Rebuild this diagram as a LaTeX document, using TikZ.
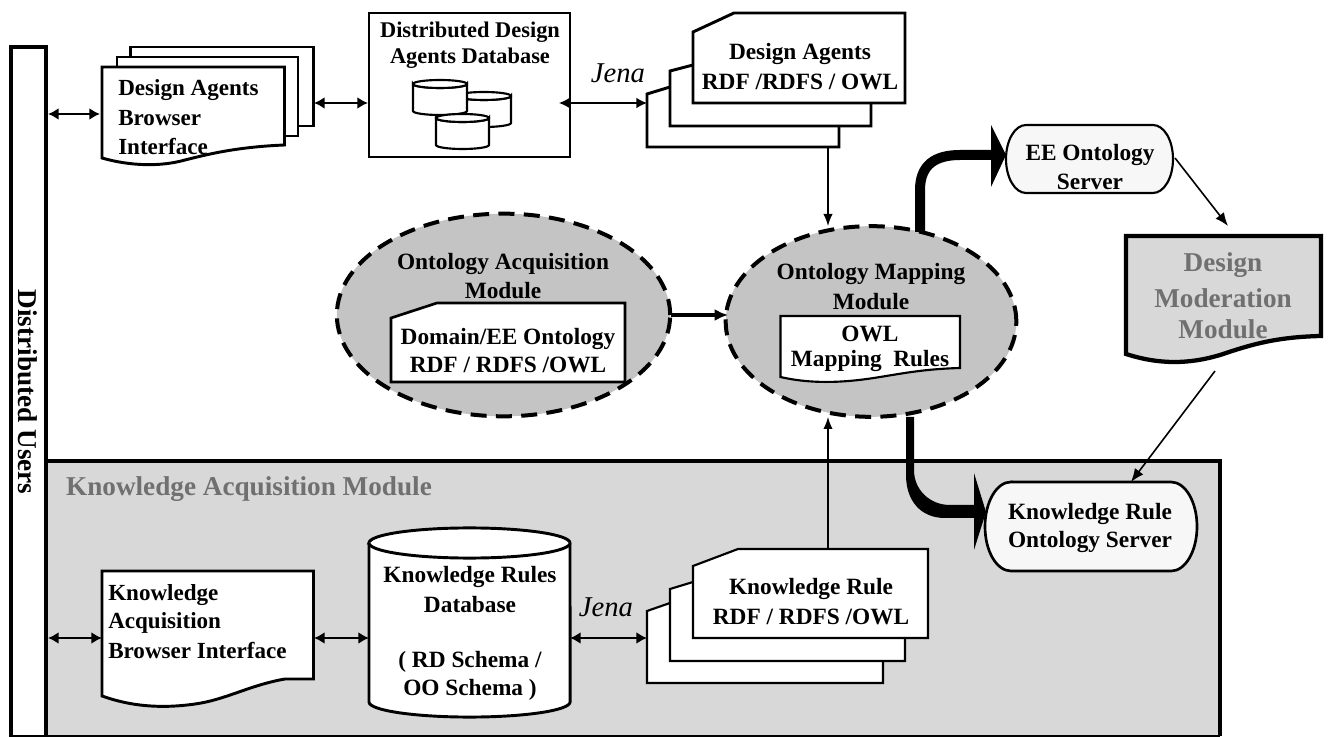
\documentclass[tikz,border=0pt]{standalone}
\usepackage{fontspec}
\setmainfont{Liberation Serif}
\usetikzlibrary{arrows.meta,calc}
\definecolor{ovalgray}{HTML}{C4C4C4}
\definecolor{panelgray}{HTML}{D8D8D8}
\definecolor{servwhite}{HTML}{F7F7F7}
\definecolor{labgray}{HTML}{707070}
\tikzset{
  x=0.75pt,y=-0.75pt,
  box/.style={draw=black,line width=2.2pt,fill=white},
  thinbox/.style={draw=black,line width=1.6pt,fill=white},
  lab/.style={font=\fontsize{17.5}{17.5}\selectfont\bfseries,inner sep=0pt,anchor=center,yshift=-1.2pt},
  labw/.style={font=\fontsize{17.3}{17.3}\selectfont\bfseries,inner sep=0pt,anchor=west,yshift=-1.2pt},
  graylab/.style={font=\fontsize{20.4}{20.4}\selectfont\bfseries,text=labgray,inner sep=0pt,yshift=-1.2pt},
  jenalab/.style={font=\fontsize{21.5}{21.5}\selectfont\itshape,inner sep=0pt},
  oval/.style={draw=black,line width=3pt,fill=ovalgray,dash pattern=on 12pt off 7pt},
  dbl/.style={line width=1.8pt,{Latex[length=8pt,width=9pt]}-{Latex[length=8pt,width=9pt]}},
  thinarrow/.style={line width=1pt,-{Latex[length=9pt,width=7pt]}},
  server/.style={draw=black,line width=1.6pt,fill=servwhite},
  cyl/.style={draw=black,line width=1.6pt,fill=white},
}
\begin{document}
\begin{tikzpicture}
\useasboundingbox (0,0) rectangle (1328,737);
\fill[white] (0,0) rectangle (1328,737);

% knowledge panel
\fill[panelgray] (47,461) rectangle (1220,736);
\draw[line width=3pt] (47,461) -- (1220,461) -- (1220,736);
\node[graylab] (kam) at (249,487) {Knowledge Acquisition Module};

% users bar
\fill[white] (11,47) rectangle (46,736);
\draw[line width=2.6pt] (11,737) -- (11,47) -- (46,47) -- (46,737);
\draw[line width=1pt] (11,736) -- (1220,736);
\node[font=\fontsize{20.4}{20.4}\selectfont\bfseries,rotate=-90,inner sep=0pt] (users) at (28,392) {Distributed Users};

% Design agents browser stack
\draw[box] (130.5,47) rectangle (313.5,126);
\draw[box] (117,57) rectangle (298,136);
\draw[box] (102,67) -- (284.5,67) -- (284.5,145) .. controls (235,147) and (205,155) .. (185,160) .. controls (160,167) and (130,166) .. (102,158) -- cycle;
\coordinate (browserL) at (100,114);
\coordinate (browserR) at (314,103);
\node[labw] (b1) at (118,88) {Design Agents};
\node[labw] (b2) at (118,116) {Browser};
\node[labw] (b3) at (118,145) {Interface};

% DB box
\draw[box] (369,13) rectangle (570,157);
\node[lab,font=\fontsize{16.8}{16.8}\selectfont\bfseries] (d1) at (470,31) {Distributed Design};
\node[lab,font=\fontsize{16.8}{16.8}\selectfont\bfseries] (d2) at (470,57) {Agents Database};
\coordinate (dbL) at (368,103);
\coordinate (dbJ) at (559,103);
\foreach \xl/\xr/\yt/\yb in {457/511/92/127,413/467/80/115,436/489/114/149}{
  \pgfmathsetmacro\xc{(\xl+\xr)/2}
  \pgfmathsetmacro\rx{(\xr-\xl)/2*0.75}
  \draw[cyl] (\xl,\yt+4) arc[start angle=180,end angle=360,x radius=\rx pt,y radius=3pt] -- (\xr,\yb-4) arc[start angle=0,end angle=-180,x radius=\rx pt,y radius=3pt] -- cycle;
  \draw[cyl] (\xc,\yt+4) ellipse[x radius=\rx pt,y radius=3pt];
}

% Design agents RDF stack
\draw[box] (647,94) -- (670,87) -- (839,87) -- (839,147) -- (647,147) -- cycle;
\draw[box] (670,71) -- (693,65) -- (871,65) -- (871,126) -- (670,126) -- cycle;
\draw[box] (693,32) -- (734,13) -- (905,13) -- (905,103) -- (693,103) -- cycle;
\node[lab] (r1) at (800,52) {Design Agents};
\node[lab] (r2) at (800,80) {RDF /RDFS / OWL};
\coordinate (rdfL) at (647,103);
\coordinate (rdfB) at (828,147);
\node[jenalab] (jena1) at (618,73) {Jena};

% Ovals
\draw[oval] (503.5,315) ellipse[x radius=125pt,y radius=76pt];
\draw[oval] (871,321.5) ellipse[x radius=109pt,y radius=71.5pt];
\node[lab] (o1) at (503,262) {Ontology Acquisition};
\node[lab] (o2) at (503,289) {Module};
\draw[thinbox,line width=2pt] (391,318) -- (437,303) -- (625,303) -- (625,382) -- (391,382) -- cycle;
\node[lab] (o3) at (508,337) {Domain/EE Ontology};
\node[lab] (o4) at (508,363) {RDF / RDFS /OWL};
\node[lab] (m1) at (871,272) {Ontology Mapping};
\node[lab] (m2) at (871,300) {Module};
\draw[thinbox] (780.5,316) -- (960,316) -- (960,368) .. controls (925,369) and (905,373) .. (880,377) .. controls (850,382) and (815,385) .. (780.5,377) -- cycle;
\node[lab] (m3) at (870,332) {OWL};
\node[lab] (m4) at (870,359) {Mapping\ \ Rules};
\coordinate (ovalA) at (671,315);
\coordinate (ovalB) at (728,315);
\coordinate (mapT) at (828,226);
\coordinate (mapB) at (828,417);
\coordinate (mapTout) at (920,232);

% Servers
\draw[server] (1026,125) -- (1153,125) arc[start angle=90,end angle=-90,x radius=15pt,y radius=25.5pt] -- (1026,193) arc[start angle=270,end angle=90,x radius=15pt,y radius=25.5pt] -- cycle;
\node[lab] (e1) at (1090,153) {EE Ontology};
\node[lab] (e2) at (1090,180) {Server};
\draw[server,line width=2pt] (1011,482) -- (1171,482) arc[start angle=90,end angle=-90,x radius=19.5pt,y radius=33.4pt] -- (1011,571) arc[start angle=270,end angle=90,x radius=19.5pt,y radius=33.4pt] -- cycle;
\node[lab] (k1) at (1090,512) {Knowledge Rule};
\node[lab] (k2) at (1090,540) {Ontology Server};

% Design moderation
\draw[line width=3.2pt,fill=panelgray] (1126,236) -- (1321,236) -- (1321,336) .. controls (1275,337) and (1250,345) .. (1220,355) .. controls (1190,364) and (1160,365) .. (1126,354) -- cycle;
\node[graylab] (dm1) at (1223,263) {Design};
\node[graylab] (dm2) at (1223,297) {Moderation};
\node[graylab] (dm3) at (1223,328) {Module};

% Knowledge browser
\draw[box] (102,571) -- (313.5,571) -- (313.5,679) -- (285,679) .. controls (250,685) and (225,700) .. (195,704) .. controls (160,709) and (130,706) .. (102,696) -- cycle;
\node[labw] (kb1) at (108,593) {Knowledge};
\node[labw] (kb2) at (108,621) {Acquisition};
\node[labw] (kb3) at (108,649) {Browser Interface};

% Knowledge DB cylinder
\draw[box] (369,543) -- (369,702) arc[start angle=180,end angle=360,x radius=75.4pt,y radius=11.3pt] -- (570,543) arc[start angle=0,end angle=180,x radius=75.4pt,y radius=11.3pt] -- cycle;
\draw[box] (369,543) arc[start angle=180,end angle=360,x radius=75.4pt,y radius=11.3pt];
\node[lab] (c1) at (470,575) {Knowledge Rules};
\node[lab] (c2) at (470,603) {Database};
\node[lab] (c3) at (470,660) {( RD Schema /};
\node[lab] (c4) at (470,688) {OO Schema )};

% KR RDF stack
\draw[thinbox] (647,611) -- (670,603) -- (883,603) -- (883,683) -- (647,683) -- cycle;
\draw[thinbox] (670,589) -- (693,582) -- (905,582) -- (905,661) -- (670,661) -- cycle;
\draw[thinbox] (693,566) -- (738,549) -- (928,549) -- (928,638) -- (693,638) -- cycle;
\node[lab] (kr1) at (811,587) {Knowledge Rule};
\node[lab] (kr2) at (811,615) {RDF / RDFS /OWL};
\node[jenalab] (jena2) at (606,607) {Jena};
\coordinate (krT) at (828,549);

% connectors
\coordinate (barT) at (48,114);
\coordinate (barB) at (48,638);
\draw[dbl] (barT) -- (browserL);
\draw[dbl] (browserR) -- (dbL);
\draw[line width=1pt,{Latex[length=8pt,width=8pt]}-{Latex[length=8pt,width=8pt]}] (dbJ) -- (rdfL);
\draw[thinarrow] (rdfB) -- (mapT);
\draw[thinarrow] (krT) -- (mapB);
\draw[line width=2.4pt,-{Latex[length=10pt,width=9pt]}] (ovalA) -- (ovalB);
\coordinate (kbL) at (102,638);
\coordinate (kbR) at (314,638);
\coordinate (cL) at (369,638);
\coordinate (cR) at (570,638);
\coordinate (krL) at (647,638);
\draw[dbl] (barB) -- (kbL);
\draw[dbl] (kbR) -- (cL);
\draw[dbl] (cR) -- (krL);

% thick arrows
\coordinate (eeL) at (1006,155);
\coordinate (krsL) at (986,512);
\draw[line width=7.5pt] (mapTout) -- (920,190) .. controls (920,165) and (935,155) .. (960,155) -- (993,155);
\fill (991,125) -- (eeL) -- (991,187) -- cycle;
\fill (906,417) -- (906,475) .. controls (906,500) and (920,518) .. (945,518) -- (976,518) -- (976,505) -- (950,505) .. controls (930,505) and (914,490) .. (914,470) -- (914,417) -- cycle;
\fill (974,473) -- (krsL) -- (974,550) -- cycle;

\coordinate (eeR) at (1175,158);
\coordinate (dmT) at (1228,226);
\draw[line width=1.2pt,-{Latex[length=10pt,width=8pt]}] (eeR) -- (dmT);
\coordinate (dmB) at (1215,371);
\coordinate (krsT) at (1131,482);
\draw[line width=1.2pt,-{Latex[length=10pt,width=8pt]}] (dmB) -- (krsT);
\end{tikzpicture}
\end{document}
